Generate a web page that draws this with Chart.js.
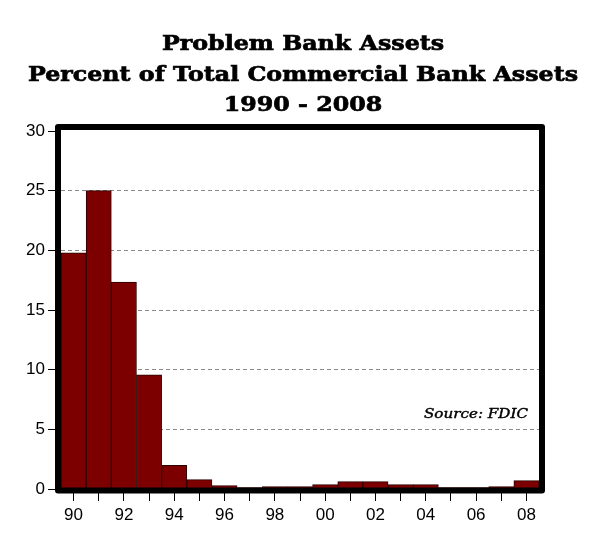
<!DOCTYPE html>
<html>
<head>
<meta charset="utf-8">
<script src="https://cdn.jsdelivr.net/npm/chart.js@4/dist/chart.umd.min.js"></script>
<style>
html,body{margin:0;padding:0;background:#fff;}
#wrap{width:613px;height:539px;position:relative;}
</style>
</head>
<body>
<div id="wrap"><canvas id="c" width="613" height="539"></canvas></div>
<script>
const years = ['1990','1991','1992','1993','1994','1995','1996','1997','1998','1999','2000','2001','2002','2003','2004','2005','2006','2007','2008'];
const problemAssetsPct = [19.8, 25.0, 17.35, 9.57, 1.98, 0.79, 0.28, 0.12, 0.2, 0.2, 0.37, 0.62, 0.62, 0.37, 0.37, 0.12, 0.12, 0.2, 0.7];
const yTicks = [0, 5, 10, 15, 20, 25, 30];
const titleLines = ['Problem Bank Assets', 'Percent of Total Commercial Bank Assets', '1990 - 2008'];
const sourceText = 'Source: FDIC';

const overlay = {
  id: 'overlay',
  afterDatasetsDraw(chart) {
    const ctx = chart.ctx, a = chart.chartArea;
    ctx.save();
    ctx.strokeStyle = '#000';
    ctx.lineWidth = 6;
    ctx.lineJoin = 'round';
    ctx.strokeRect(a.left - 3, a.top - 4, (a.right + 3) - (a.left - 3), (a.bottom + 1.5) - (a.top - 4));
    // source note
    ctx.fillStyle = '#000';
    ctx.strokeStyle = '#000';
    ctx.lineWidth = 0.4;
    ctx.font = 'italic 12px "DejaVu Serif"';
    ctx.textBaseline = 'middle';
    ctx.textAlign = 'left';
    const w = ctx.measureText(sourceText).width;
    const target = 104;
    ctx.translate(424, 415);
    ctx.scale(target / w, 1);
    ctx.fillText(sourceText, 0, 0);
    ctx.strokeText(sourceText, 0, 0);
    ctx.restore();
  },
  afterDraw(chart) {
    const ctx = chart.ctx;
    ctx.save();
    ctx.fillStyle = '#000';
    ctx.strokeStyle = '#000';
    ctx.lineWidth = 0.7;
    ctx.font = 'bold 21px "DejaVu Serif"';
    ctx.textBaseline = 'middle';
    ctx.textAlign = 'center';
    const w2 = ctx.measureText(titleLines[1]).width;
    const sx = 550 / w2;
    const ys = [45, 76, 106];
    titleLines.forEach((t, i) => {
      ctx.save();
      ctx.translate(303, ys[i]);
      ctx.scale(sx, 1);
      ctx.fillText(t, 0, 0);
      ctx.strokeText(t, 0, 0);
      ctx.restore();
    });
    ctx.restore();
  }
};

new Chart(document.getElementById('c'), {
  type: 'bar',
  data: {
    labels: years,
    datasets: [{
      data: problemAssetsPct,
      backgroundColor: '#7d0000',
      borderColor: '#2a0000',
      borderWidth: 1,
      barPercentage: 1.0,
      categoryPercentage: 1.0
    }]
  },
  options: {
    responsive: false,
    animation: false,
    devicePixelRatio: 1,
    layout: { padding: { left: 0, right: 74, top: 131, bottom: 0 } },
    plugins: { legend: { display: false }, title: { display: false }, tooltip: { enabled: false } },
    scales: {
      x: {
        afterFit(s) { s.height = 50; },
        grid: { offset: false, drawOnChartArea: false, drawTicks: true, tickLength: 12, color: '#000', lineWidth: 1 },
        border: { display: false },
        ticks: {
          autoSkip: false, maxRotation: 0, minRotation: 0, padding: 4,
          color: '#000', font: { family: '"Liberation Sans", Arial', size: 17 },
          callback(v, i) { return i % 2 === 0 ? years[i].slice(2) : ''; }
        }
      },
      y: {
        min: 0, max: 30,
        afterFit(s) { s.width = 61; },
        afterBuildTicks(s) { s.ticks = yTicks.map(v => ({ value: v })); },
        grid: {
          color: (c) => (c.tick && (c.tick.value === 0 || c.tick.value === 30)) ? 'rgba(0,0,0,0)' : '#8a8a8a',
          lineWidth: 1, tickLength: 13, tickColor: '#000', tickWidth: 1, borderDash: [4, 3], tickBorderDash: []
        },
        border: { display: false, dash: [4, 3] },
        ticks: { padding: 3, color: '#000', font: { family: '"Liberation Sans", Arial', size: 17 } }
      }
    }
  },
  plugins: [overlay]
});
</script>
</body>
</html>
